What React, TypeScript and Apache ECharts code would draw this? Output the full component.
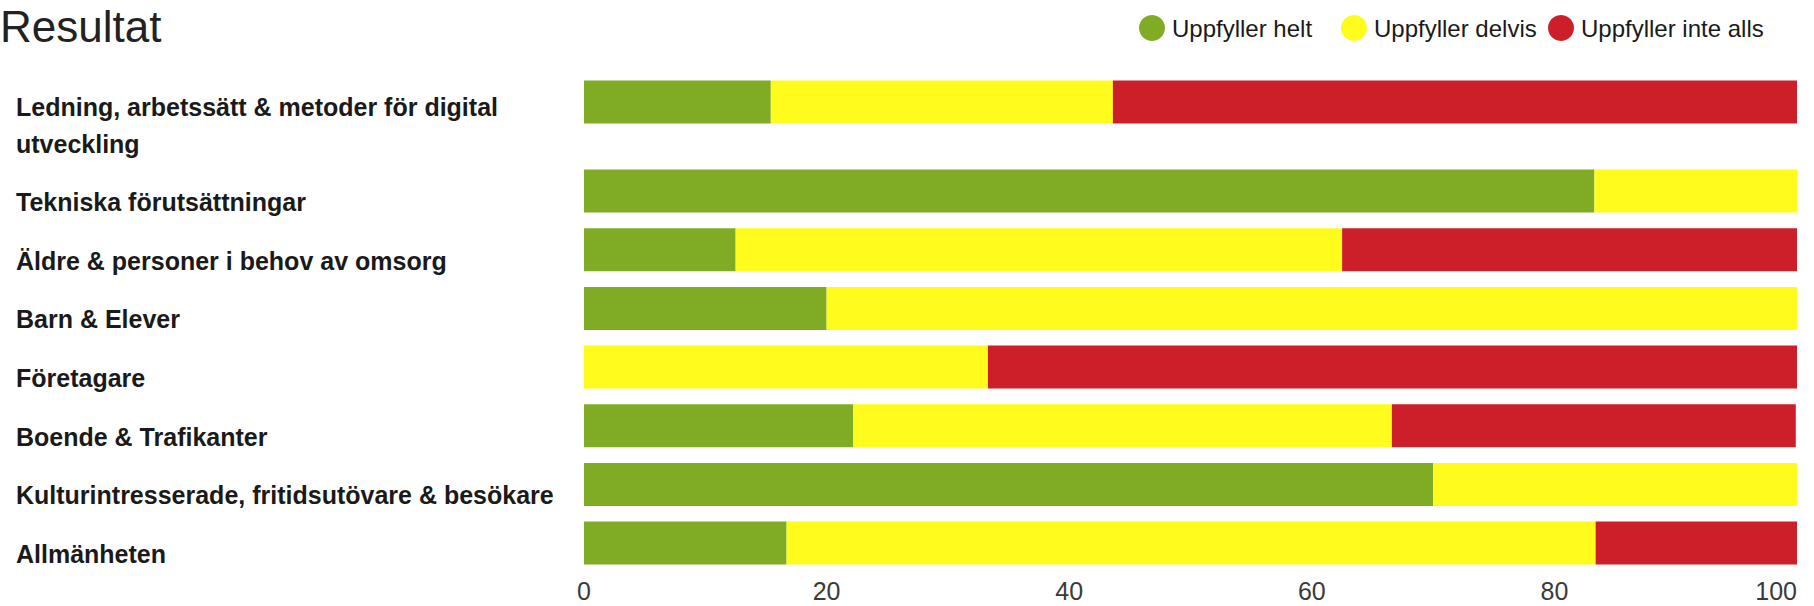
import React, { useEffect, useRef } from "react";
import * as echarts from "echarts";

const categories = [
  "Ledning, arbetssätt & metoder för digital\nutveckling",
  "Tekniska förutsättningar",
  "Äldre & personer i behov av omsorg",
  "Barn & Elever",
  "Företagare",
  "Boende & Trafikanter",
  "Kulturintresserade, fritidsutövare & besökare",
  "Allmänheten",
];
const seriesNames = ["Uppfyller helt", "Uppfyller delvis", "Uppfyller inte alls"];
const helt = [15.4, 83.3, 12.5, 20, 0, 22.2, 70, 16.7];
const delvis = [28.2, 16.7, 50, 80, 33.3, 44.4, 30, 66.7];
const inteAlls = [56.4, 0, 37.5, 0, 66.7, 33.3, 0, 16.6];
const xTicks = [0, 20, 40, 60, 80, 100];

const colors = ["#7fab25", "#fffb1c", "#cd1f2a"];

export default function App() {
  const ref = useRef<HTMLDivElement>(null);
  useEffect(() => {
    document.body.style.margin = "0";
    const chart = echarts.init(ref.current!, null, { renderer: "svg" });
    const values = [helt, delvis, inteAlls];
    const textStyleT = {
      fontFamily: "Liberation Sans",
      fontWeight: "bold" as const,
      fontSize: 25,
      color: "#1a1a1a",
    };
    const barW = 43;
    const series: any[] = [];
    values.forEach((arr, i) => {
      series.push({
        type: "bar",
        name: seriesNames[i],
        stack: "a",
        xAxisIndex: 0,
        yAxisIndex: 0,
        barWidth: barW,
        itemStyle: { color: colors[i] },
        data: [arr[0]],
      });
      series.push({
        type: "bar",
        name: seriesNames[i],
        stack: "b",
        xAxisIndex: 1,
        yAxisIndex: 1,
        barWidth: barW,
        itemStyle: { color: colors[i] },
        data: arr.slice(1),
      });
    });
    const legendBase = {
      icon: "circle",
      itemWidth: 26,
      itemHeight: 26,
      top: 10,
      textStyle: {
        fontFamily: "Liberation Sans",
        fontSize: 24,
        color: "#1a1a1a",
        padding: [0, 0, 0, 2],
      },
    };
    const richLabel = (padH: number) => ({
      align: "left",
      margin: 568,
      verticalAlign: "middle",
      formatter: (v: string) =>
        "{pad| }\n" +
        v
          .split("\n")
          .map((line) => "{t|" + line + "}")
          .join("\n"),
      rich: {
        pad: { fontSize: 4, lineHeight: padH, height: padH },
        t: { ...textStyleT, lineHeight: 37 },
      },
    });
    chart.setOption({
      animation: false,
      backgroundColor: "#ffffff",
      title: {
        text: "Resultat",
        left: 0,
        top: 0,
        padding: [4, 0, 0, 0],
        textStyle: {
          fontFamily: "Liberation Sans",
          fontWeight: "normal",
          fontSize: 44,
          color: "#222222",
        },
      },
      legend: [
        { ...legendBase, data: [seriesNames[0]], left: 1134 },
        { ...legendBase, data: [seriesNames[1]], left: 1336 },
        { ...legendBase, data: [seriesNames[2]], left: 1543 },
      ],
      grid: [
        { left: 584, right: 17, top: 72.6, height: 58.7 },
        { left: 584, right: 17, top: 161.7, height: 410.7 },
      ],
      xAxis: [
        { type: "value", gridIndex: 0, min: 0, max: 100, show: false },
        {
          type: "value",
          gridIndex: 1,
          min: 0,
          max: 100,
          interval: 20,
          axisLine: { show: false },
          axisTick: { show: false },
          splitLine: { show: false },
          axisLabel: {
            margin: 6,
            fontFamily: "Liberation Sans",
            fontSize: 25,
            color: "#3a3a3a",
            alignMaxLabel: "right",
            formatter: (v: number) => (xTicks.includes(v) ? String(v) : ""),
          },
        },
      ],
      yAxis: [
        {
          type: "category",
          gridIndex: 0,
          inverse: true,
          data: [categories[0]],
          axisLine: { show: false },
          axisTick: { show: false },
          axisLabel: richLabel(48),
        },
        {
          type: "category",
          gridIndex: 1,
          inverse: true,
          data: categories.slice(1),
          axisLine: { show: false },
          axisTick: { show: false },
          axisLabel: richLabel(22),
        },
      ],
      series,
    });
    return () => chart.dispose();
  }, []);
  return <div ref={ref} style={{ width: 1814, height: 606 }} />;
}
